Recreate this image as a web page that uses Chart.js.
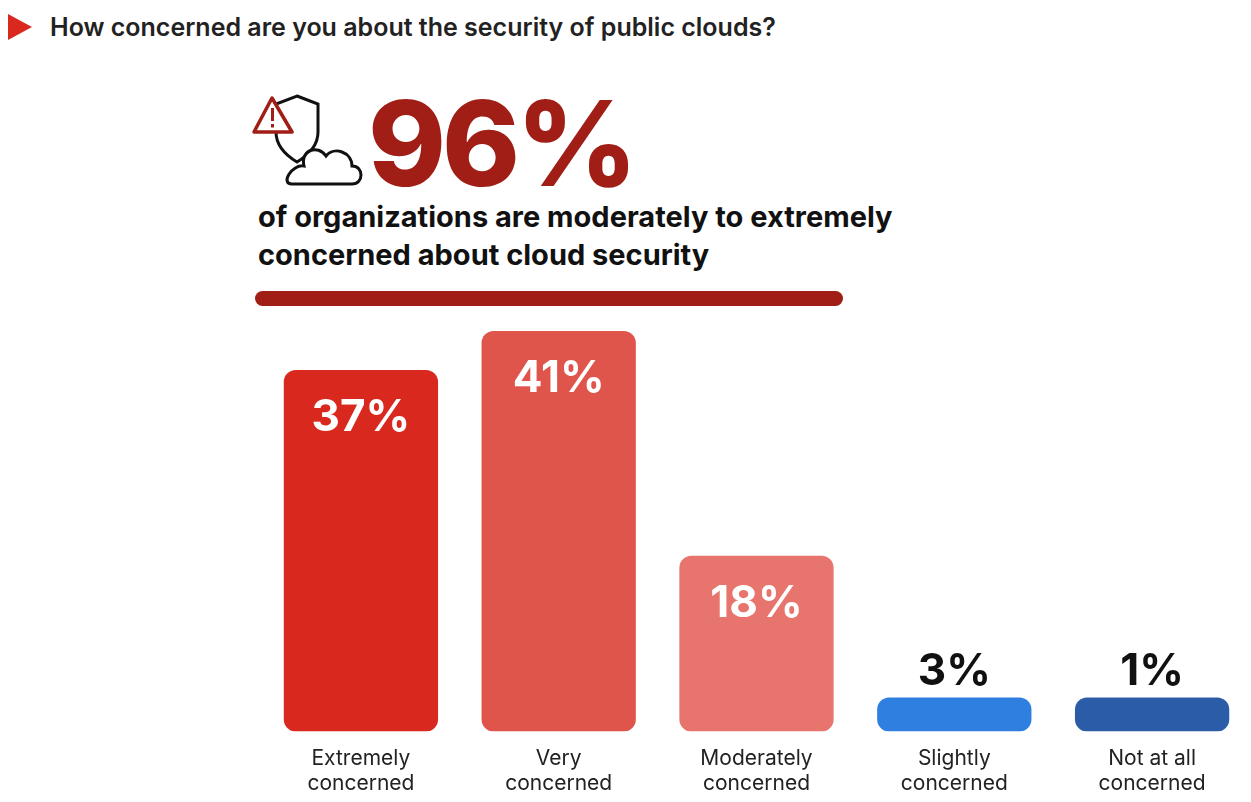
<!DOCTYPE html>
<html><head><meta charset="utf-8">
<script src="https://cdn.jsdelivr.net/npm/chart.js@4/dist/chart.umd.min.js"></script>
<style>
body{margin:0;width:1251px;height:802px;background:#fff;font-family:Inter,"Noto Sans",sans-serif;position:relative;overflow:hidden}
#title{position:absolute;left:50px;top:12px;font-size:25px;font-weight:600;color:#222}
#tri{position:absolute;left:8px;top:14px;width:0;height:0;border-top:13px solid transparent;border-bottom:13px solid transparent;border-left:24px solid #d9291f}
#big{position:absolute;left:368px;top:72px;font-size:118px;font-weight:800;color:#a01e16;letter-spacing:-4px}
#sub{position:absolute;left:258px;top:198px;font-size:29px;font-weight:700;color:#111;line-height:38px}
#rule{position:absolute;left:255px;top:291px;width:588px;height:15px;border-radius:8px;background:#a01e16}
#icon{position:absolute;left:252px;top:92px}
#wrap{position:absolute;left:262px;top:300px;width:989px;height:502px}
</style></head><body>
<div id="tri"></div>
<div id="title">How concerned are you about the security of public clouds?</div>
<svg id="icon" width="115" height="100" viewBox="0 0 115 100">
<path d="M45 4 L66 12 V40 C66 55 55 64 45 70 C35 64 24 55 24 40 V12 Z" fill="none" stroke="#111" stroke-width="3"/>
<path d="M20 6 L40 40 H2 Z" fill="#fff" stroke="#a01e16" stroke-width="3.5" stroke-linejoin="round"/>
<rect x="19" y="16" width="3" height="13" fill="#a01e16"/><rect x="19" y="32" width="3" height="3.5" fill="#a01e16"/>
<path d="M40 92 H100 C112 92 112 74 100 74 C100 60 82 54 74 64 C66 52 48 58 52 74 C40 72 28 92 40 92 Z" fill="#fff" stroke="#111" stroke-width="3"/>
</svg>
<div id="big">96%</div>
<div id="sub">of organizations are moderately to extremely<br>concerned about cloud security</div>
<div id="rule"></div>
<div id="wrap"><canvas id="c"></canvas></div>
<script>
const categories = [['Extremely','concerned'],['Very','concerned'],['Moderately','concerned'],['Slightly','concerned'],['Not at all','concerned']];
const values = [37, 41, 18, 3, 1];
const colors = ['#d9291f','#e0554b','#e8756d','#2f7fe0','#2a5ca8'];

const labelPlugin = {
  id: 'vals',
  afterDatasetsDraw(chart) {
    const ctx = chart.ctx;
    chart.getDatasetMeta(0).data.forEach((bar, i) => {
      ctx.save();
      ctx.font = '700 44px Inter, sans-serif';
      ctx.textAlign = 'center';
      ctx.textBaseline = 'top';
      const t = values[i] + '%';
      if (values[i] > 10) { ctx.fillStyle = '#fff'; ctx.fillText(t, bar.x, bar.y + 26); }
      else { ctx.fillStyle = '#111'; ctx.textBaseline = 'bottom'; ctx.fillText(t, bar.x, bar.y - 4); }
      ctx.restore();
    });
  }
};

new Chart(document.getElementById('c'), {
  type: 'bar',
  data: { labels: categories, datasets: [{ data: values, backgroundColor: colors, borderRadius: 12, borderSkipped: false, minBarLength: 34 }] },
  options: {
    responsive: true, maintainAspectRatio: false, animation: false,
    layout: { padding: { top: 31, right: 0 } },
    plugins: { legend: { display: false }, tooltip: { enabled: false } },
    datasets: { bar: { barPercentage: 0.78, categoryPercentage: 1 } },
    scales: {
      y: { display: false, min: 0, max: 41 },
      x: { grid: { display: false }, border: { display: false },
           ticks: { color: '#222', font: { family: 'Inter, sans-serif', size: 21 }, padding: 6 } }
    }
  },
  plugins: [labelPlugin]
});
</script>
</body></html>
